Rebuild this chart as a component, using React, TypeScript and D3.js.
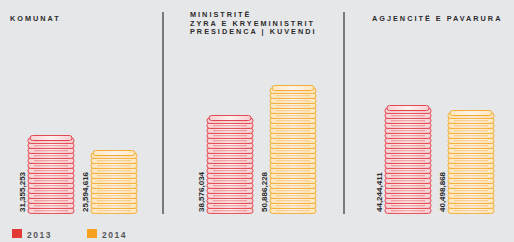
import React, { useEffect, useRef } from 'react';
import * as d3 from 'd3';

// values (euro)
const panels = ['KOMUNAT', 'MINISTRITË', 'AGJENCITË E PAVARURA'];
const titleLines = [['KOMUNAT'], ['MINISTRITË', 'ZYRA E KRYEMINISTRIT', 'PRESIDENCA | KUVENDI'], ['AGJENCITË E PAVARURA']];
const years = ['2013', '2014'];
const values2013 = [31355253, 38576034, 44244411];
const values2014 = [25594616, 50886228, 40498868];
const labels2013 = ['31,355,253', '38,576,034', '44,244,411'];
const labels2014 = ['25,594,616', '50,886,228', '40,498,868'];

const W = 514;
const H = 242;

export default function App() {
  const ref = useRef<SVGSVGElement>(null);

  useEffect(() => {
    const svg = d3.select(ref.current);
    svg.selectAll('*').remove();

    const bottom = 213;
    const y = d3.scaleLinear().domain([0, 51e6]).range([bottom, 90]);
    const px = d3.scalePoint().domain(panels).range([0, 352]);
    // per-panel tweaks: separator, title, first bar
    const sepOff = [0, -13, -8];
    const titleOff = [10, 14, 20];
    const barOff = [28, 31, 33];
    const colors = [
      { stroke: '#e2353f', fill: '#f7cfd2', legend: '#e33a36' },
      { stroke: '#f5a623', fill: '#fde6bb', legend: '#f7a21f' },
    ];

    const defs = svg.append('defs');
    colors.forEach((c, j) => {
      const gr = defs.append('linearGradient').attr('id', 'coin' + j).attr('x1', 0).attr('x2', 1);
      gr.append('stop').attr('offset', 0).attr('stop-color', c.fill);
      gr.append('stop').attr('offset', 0.5).attr('stop-color', '#fbf3f0');
      gr.append('stop').attr('offset', 1).attr('stop-color', c.fill);
    });

    svg.append('rect').attr('width', W).attr('height', H).attr('fill', '#e6e7e8');

    // separators
    [1, 2].forEach((i) => {
      const x = px(panels[i])! + sepOff[i];
      svg.append('line')
        .attr('x1', x).attr('x2', x).attr('y1', 12).attr('y2', bottom + 1)
        .attr('stroke', '#55565a').attr('stroke-width', 1.5);
    });

    panels.forEach((p, i) => {
      const x0 = px(p)!;
      const tx = x0 + titleOff[i];
      const lines = titleLines[i];
      const title = svg.append('text')
        .attr('x', tx)
        .attr('y', lines.length > 1 ? 17 : 21)
        .attr('font-family', 'Liberation Sans, Arial, sans-serif')
        .attr('font-weight', 'bold')
        .attr('font-size', 7.3)
        .attr('letter-spacing', 2)
        .attr('fill', '#2b2b2d');
      lines.forEach((l, k) => {
        title.append('tspan').attr('x', tx).attr('dy', k === 0 ? 0 : 8.5).text(l);
      });

      const sets = [values2013[i], values2014[i]];
      const labs = [labels2013[i], labels2014[i]];
      sets.forEach((v, j) => {
        const bx = x0 + barOff[i] + j * 63;
        const bw = 46;
        const top = y(v);
        const step = 5;
        const n = Math.max(1, Math.round((bottom - top) / step));
        const g = svg.append('g');
        const c = colors[j];
        d3.range(n).forEach((k) => {
          const cy = bottom - (k + 1) * step;
          g.append('rect')
            .attr('x', bx).attr('y', cy).attr('width', bw).attr('height', step + 0.4)
            .attr('rx', 2.6)
            .attr('fill', `url(#coin${j})`).attr('stroke', c.stroke).attr('stroke-width', 0.9);
          g.append('line')
            .attr('x1', bx + 6).attr('x2', bx + bw - 6)
            .attr('y1', cy + step * 0.55).attr('y2', cy + step * 0.55)
            .attr('stroke', c.stroke).attr('stroke-width', 0.7).attr('opacity', 0.75);
        });
        // top face
        const ty = bottom - n * step;
        g.append('rect')
          .attr('x', bx + 2).attr('y', ty - 2.5).attr('width', bw - 4).attr('height', 5)
          .attr('rx', 2.5)
          .attr('fill', `url(#coin${j})`).attr('stroke', c.stroke).attr('stroke-width', 0.9);

        svg.append('text')
          .attr('transform', `translate(${bx - 3},${bottom - 1}) rotate(-90)`)
          .attr('font-family', 'Liberation Sans, Arial, sans-serif')
          .attr('font-weight', 'bold')
          .attr('font-size', 8)
          .attr('fill', '#2b2b2d')
          .text(labs[j]);
      });
    });

    // legend
    years.forEach((yr, j) => {
      const lx = 12 + j * 75;
      svg.append('rect').attr('x', lx).attr('y', 229).attr('width', 10).attr('height', 9)
        .attr('fill', colors[j].legend);
      svg.append('text').attr('x', lx + 15).attr('y', 237.5)
        .attr('font-family', 'Liberation Sans, Arial, sans-serif')
        .attr('font-weight', 'bold').attr('font-size', 8.5).attr('letter-spacing', 1.5)
        .attr('fill', '#55565a').text(yr);
    });
  }, []);

  return (
    <svg ref={ref} width={W} height={H} style={{ position: 'absolute', left: 0, top: 0 }} />
  );
}
